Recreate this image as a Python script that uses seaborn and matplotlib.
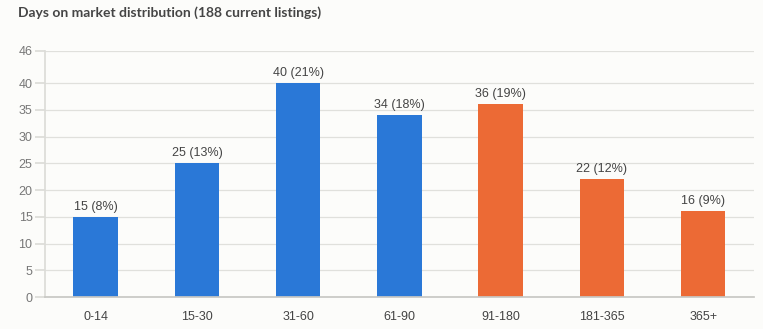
import matplotlib
matplotlib.use("Agg")
import matplotlib.pyplot as plt
import seaborn as sns
import pandas as pd

categories = ["0-14", "15-30", "31-60", "61-90", "91-180", "181-365", "365+"]
counts = [15, 25, 40, 34, 36, 22, 16]
percents = [8, 13, 21, 18, 19, 12, 9]
groups = ["fresh", "fresh", "fresh", "fresh", "stale", "stale", "stale"]
yticks = [0, 5, 10, 15, 20, 25, 30, 35, 40, 46]
title = "Days on market distribution (188 current listings)"

sns.set_theme(style="white")
plt.rcParams["font.family"] = ["Liberation Sans", "DejaVu Sans"]

df = pd.DataFrame({"cat": categories, "count": counts, "group": groups})
bg = "#fcfcfa"
fig = plt.figure(figsize=(7.63, 3.29), dpi=100, facecolor=bg)
ax = fig.add_axes([0.059, 0.097, 0.929, 0.748])
ax.set_facecolor(bg)

sns.barplot(data=df, x="cat", y="count", hue="group",
            palette={"fresh": "#2a78d7", "stale": "#ec6a35"},
            dodge=False, width=0.44, legend=False, ax=ax, saturation=1,
            edgecolor="none", linewidth=0)

for i, (c, p) in enumerate(zip(counts, percents)):
    ax.text(i, c + 0.8, f"{c} ({p}%)", ha="center", va="bottom",
            fontsize=9, color="#444444")

ax.set_ylim(0, 46)
ax.set_xlim(-0.5, 6.5)
ax.set_yticks(yticks)
ax.yaxis.grid(True, color="#e0e0dc", linewidth=0.9)
ax.set_axisbelow(True)
for s in ["top", "right"]:
    ax.spines[s].set_visible(False)
ax.spines["left"].set_color("#dcdcd8")
ax.spines["bottom"].set_color("#c8c8c4")
ax.tick_params(axis="y", length=7, color="#dcdcd8", labelsize=9,
               labelcolor="#777777", pad=2, left=True)
ax.tick_params(axis="x", length=0, labelsize=9, labelcolor="#444444", pad=10)
ax.set_xlabel("")
ax.set_ylabel("")

fig.text(0.023, 0.963, title, ha="left", va="center", fontsize=10,
         color="#454545", fontweight="bold", family=["Lato", "DejaVu Sans"])

fig.savefig("out.png", dpi=100, facecolor=bg)
